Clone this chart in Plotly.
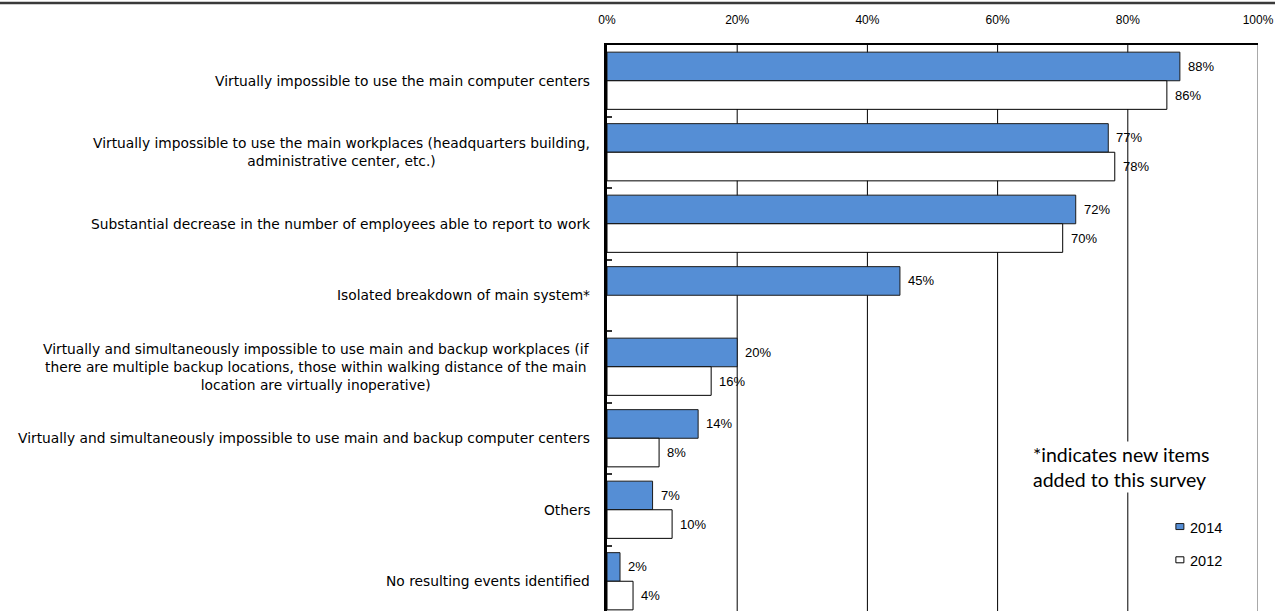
import plotly.graph_objects as go

# Survey results: events assumed in business continuity planning
categories = [
    "Virtually impossible to use the main computer centers",
    "Virtually impossible to use the main workplaces (headquarters building,<br>administrative center, etc.)",
    "Substantial decrease in the number of employees able to report to work",
    "Isolated breakdown of main system*",
    "Virtually and simultaneously impossible to use main and backup workplaces (if<br>there are multiple backup locations, those within walking distance of the main<br>location are virtually inoperative)",
    "Virtually and simultaneously impossible to use main and backup computer centers",
    "Others",
    "No resulting events identified",
]
values_2014 = [88, 77, 72, 45, 20, 14, 7, 2]
values_2012 = [86, 78, 70, None, 16, 8, 10, 4]

x_ticks = [0, 20, 40, 60, 80, 100]
grid_vals = [20, 40, 60, 80]
boundaries = [0.5, 1.5, 2.5, 3.5, 4.5, 5.5, 6.5]

BLUE = "#558ED5"
LABEL_FONT = dict(family="DejaVu Sans", size=13.8, color="#000000")
VALUE_FONT = dict(family="Liberation Sans", size=13, color="#000000")

pos = list(range(len(categories)))

fig = go.Figure()
fig.add_trace(go.Bar(
    name="2014", y=pos, x=values_2014, orientation="h",
    marker=dict(color=BLUE, line=dict(color="#1a1a1a", width=1)),
    showlegend=False,
))
fig.add_trace(go.Bar(
    name="2012", y=pos, x=values_2012, orientation="h",
    marker=dict(color="#ffffff", line=dict(color="#000000", width=1)),
    showlegend=False,
))

annotations = []
# category labels, right-aligned against the axis, lines centred
for i, label in enumerate(categories):
    annotations.append(dict(
        x=0, xref="paper", y=i, yref="y", text=label, showarrow=False,
        xanchor="right", yanchor="middle", align="center", xshift=-15,
        font=LABEL_FONT,
    ))

# value labels beside each bar
offset = 0.2
for i, v in enumerate(values_2014):
    if v is not None:
        annotations.append(dict(
            x=v, xref="x", y=i - offset, yref="y", text=f"{v}%", showarrow=False,
            xanchor="left", yanchor="middle", xshift=6, font=VALUE_FONT,
        ))
for i, v in enumerate(values_2012):
    if v is not None:
        annotations.append(dict(
            x=v, xref="x", y=i + offset, yref="y", text=f"{v}%", showarrow=False,
            xanchor="left", yanchor="middle", xshift=6, font=VALUE_FONT,
        ))

# footnote about new items
annotations.append(dict(
    x=65.2, xref="x", y=5.40, yref="y",
    text="*indicates new items<br>added to this survey", showarrow=False,
    xanchor="left", yanchor="middle", align="left",
    font=dict(family="Lato", size=19.5, color="#000000"), bgcolor="#ffffff",
))

# legend entries
legend_items = [("2014", BLUE, "#1a1a1a", 6.255), ("2012", "#ffffff", "#000000", 6.72)]
shapes = []
for name, fill, edge, ly in legend_items:
    annotations.append(dict(
        x=89.2, xref="x", y=ly, yref="y", text=name, showarrow=False,
        xanchor="left", yanchor="middle",
        font=dict(family="Liberation Sans", size=14.5, color="#000000"),
    ))
    shapes.append(dict(
        type="rect", xref="x", yref="y", xsizemode="pixel", ysizemode="pixel",
        xanchor=88.0, yanchor=ly - 0.02, x0=-4, x1=4, y0=-3, y1=3,
        fillcolor=fill, line=dict(color=edge, width=1),
    ))

# vertical gridlines behind bars
for g in grid_vals:
    shapes.append(dict(
        type="line", xref="x", yref="paper", x0=g, x1=g, y0=0, y1=1,
        line=dict(color="#000000", width=1), layer="below",
    ))
# right frame edge
shapes.append(dict(
    type="line", xref="x", yref="paper", x0=100, x1=100, y0=0, y1=1,
    line=dict(color="#8c8c8c", width=1.5),
))
# rule across the top of the page
shapes.append(dict(
    type="line", xref="paper", yref="paper", x0=-1, x1=1.1, y0=1.0742, y1=1.0742,
    line=dict(color="#3a3a3a", width=2.5),
))

fig.update_layout(
    width=1275, height=611,
    margin=dict(l=607, r=17, t=45, b=0, pad=0),
    paper_bgcolor="#ffffff", plot_bgcolor="#ffffff",
    barmode="group", bargap=0.2, bargroupgap=0,
    annotations=annotations, shapes=shapes,
    xaxis=dict(
        side="top", range=[0, 100], tickvals=x_ticks,
        ticktext=[f"{t}%" for t in x_ticks],
        showgrid=False, zeroline=False, ticks="", ticklabelstandoff=14,
        showline=True, linecolor="#000000", linewidth=2,
        tickfont=dict(family="Liberation Sans", size=12, color="#000000"),
    ),
    yaxis=dict(
        range=[7.416, -0.5], tickvals=boundaries, ticktext=[""] * len(boundaries),
        ticks="inside", ticklen=5, tickcolor="#333333", tickwidth=1.5,
        showgrid=False, zeroline=False,
        showline=True, linecolor="#000000", linewidth=3,
    ),
)

fig.write_html("out.html")
